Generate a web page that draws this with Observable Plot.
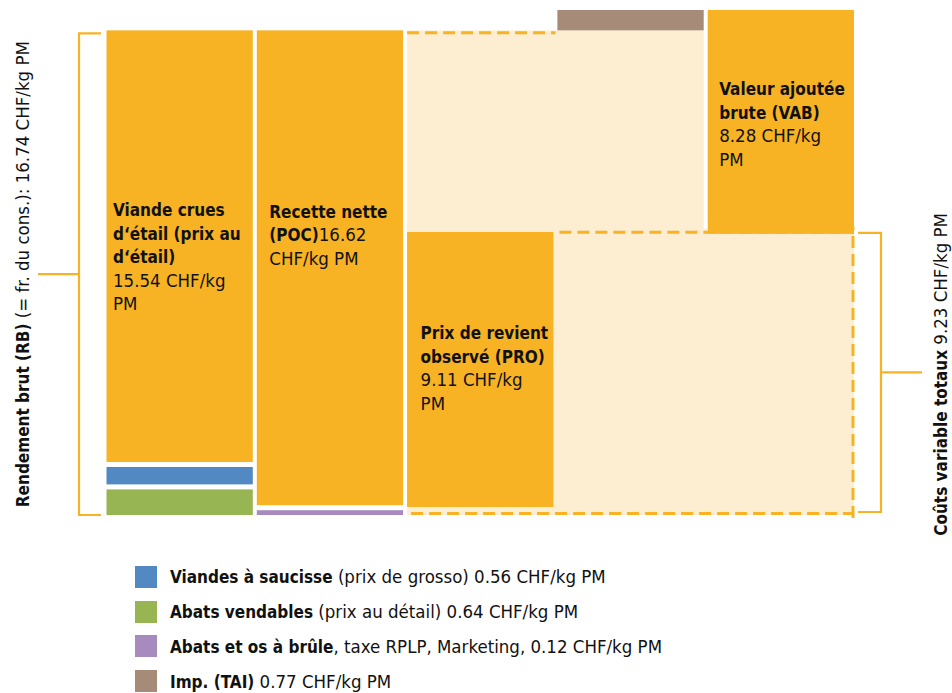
<!DOCTYPE html>
<html>
<head>
<meta charset="utf-8">
<script src="https://cdn.jsdelivr.net/npm/d3@7"></script>
<script src="https://cdn.jsdelivr.net/npm/@observablehq/plot@0.6"></script>
<style>
  html, body { margin: 0; padding: 0; background: #fff; }
  #wrap { position: relative; width: 952px; height: 693px; overflow: hidden;
          font-family: "DejaVu Sans Condensed", "DejaVu Sans", sans-serif; font-stretch: condensed; }
  #legend { position: absolute; left: 135px; top: 559.5px; font-size: 18.5px; color: #111; }
  .row { display: flex; align-items: center; height: 34.8px; white-space: nowrap; }
  .sw { width: 22px; height: 22px; margin-right: 13px; flex: none; }
  #legend b { font-weight: bold; font-size: 17px; }
</style>
</head>
<body>
<div id="wrap"><div id="chart"></div><div id="legend"></div></div>
<script>
// ---------- data ----------
const columnNames = ["Viande crues d‘étail", "Recette nette (POC)", "Prix de revient observé (PRO)", "Imp. (TAI)", "Valeur ajoutée brute (VAB)"];
const rbTotal = 16.74;      // Rendement brut (RB)
const cvTotal = 9.23;       // Coûts variable totaux
const viandeCrues = 15.54;
const viandesSaucisse = 0.56;
const abatsVendables = 0.64;
const recetteNette = 16.62;
const abatsOs = 0.12;
const prixRevient = 9.11;
const impTAI = 0.77;
const vab = 8.28;

const colors = {orange: "#F7B324", light: "#FDEDD1", blue: "#5389C2", green: "#97B552", purple: "#A78BBE", brown: "#A68B78"};

// stacks: column index, segments bottom-up
const stackCols   = [0, 1];
const stackItems  = [
  [{v: abatsVendables, c: colors.green}, {v: viandesSaucisse, c: colors.blue}, {v: viandeCrues, c: colors.orange}],
  [{v: abatsOs, c: colors.purple}, {v: recetteNette, c: colors.orange}]
];

const legendItems = [
  {c: colors.blue,   b: "Viandes à saucisse", t: ` (prix de grosso) ${viandesSaucisse.toFixed(2)} CHF/kg PM`},
  {c: colors.green,  b: "Abats vendables", t: ` (prix au détail) ${abatsVendables.toFixed(2)} CHF/kg PM`},
  {c: colors.purple, b: "Abats et os à brûle", t: `, taxe RPLP, Marketing, ${abatsOs.toFixed(2)} CHF/kg PM`},
  {c: colors.brown,  b: "Imp. (TAI)", t: ` ${impTAI.toFixed(2)} CHF/kg PM`}
];

// ---------- derived tables ----------
const stackedBase = [], stackedUpper = [];
stackCols.forEach((col, k) => {
  let base = 0;
  stackItems[k].forEach((s, i) => {
    (i === 0 ? stackedBase : stackedUpper).push({x1: col, x2: col + 1, y1: base, y2: base + s.v, fill: s.c});
    base += s.v;
  });
});
const pro = [{x1: 2, x2: 3, y1: 0, y2: prixRevient}];
const tai = [{x1: 3, x2: 4, y1: rbTotal, y2: rbTotal + impTAI}];
const vabBar = [{x1: 4, x2: 5, y1: cvTotal, y2: cvTotal + vab}];
const lights = [
  {x1: 2, x2: 4, y1: prixRevient, y2: rbTotal},
  {x1: 2, x2: 5, y1: 0, y2: cvTotal}
];
const f = v => v.toFixed(2);
const smallTotal = abatsVendables + viandesSaucisse;

const dash = {stroke: colors.orange, strokeWidth: 3, strokeDasharray: "12,6"};
const ns = "http://www.w3.org/2000/svg";

function brackets(index, scales) {
  const {x, y} = scales;
  const g = document.createElementNS(ns, "g");
  const path = document.createElementNS(ns, "path");
  const lx = x(0) - 25.5, lb = y(0), lt = y(rbTotal) + 3, lm = (lb + lt) / 2;
  const rx = x(5) + 25, rb = y(0) - 3, rt = y(cvTotal) + 4, rm = (rb + rt) / 2;
  path.setAttribute("d",
    `M${lx + 22},${lt}H${lx}V${lb}H${lx + 22}M${lx},${lm}H${lx - 41}` +
    `M${rx - 23},${rt}H${rx}V${rb}H${rx - 23}M${rx},${rm}H${rx + 41}`);
  path.setAttribute("fill", "none");
  path.setAttribute("stroke", colors.orange);
  path.setAttribute("stroke-width", 2.2);
  g.appendChild(path);
  const label = (cx, cy, bold, normal) => {
    const t = document.createElementNS(ns, "text");
    t.setAttribute("transform", `translate(${cx},${cy}) rotate(-90)`);
    t.setAttribute("text-anchor", "middle");
    t.setAttribute("dy", "0.36em");
    t.setAttribute("fill", "#111");
    const a = document.createElementNS(ns, "tspan"); a.setAttribute("font-weight", "bold"); a.setAttribute("font-size", "17px"); a.textContent = bold;
    const b = document.createElementNS(ns, "tspan"); b.textContent = normal;
    t.appendChild(a); t.appendChild(b);
    g.appendChild(t);
  };
  label(22, lm, "Rendement brut (RB)", ` (= fr. du cons.): ${f(rbTotal)} CHF/kg PM`);
  label(940, rm + 2, "Coûts variable totaux", ` ${f(cvTotal)} CHF/kg PM`);
  return g;
}

const textOpts = {textAnchor: "start", lineAnchor: "middle", lineHeight: 23.5 / 18.5, fill: "#111", fontSize: 18.5};
const rectXY = {x1: "x1", x2: "x2", y1: "y1", y2: "y2", insetLeft: 2, insetRight: 2};

const chart = Plot.plot({
  width: 952,
  height: 693,
  margin: 0,
  style: {fontFamily: "'DejaVu Sans Condensed', 'DejaVu Sans', sans-serif", fontSize: "18.5px", fontStretch: "condensed", background: "transparent"},
  x: {type: "linear", domain: [0, 5], range: [104.5, 856], axis: null},
  y: {type: "linear", domain: [0, smallTotal, prixRevient, rbTotal + impTAI], range: [515, 467, 232, 10], axis: null},
  marks: [
    Plot.rect(lights, {...rectXY, fill: colors.light}),
    Plot.ruleY([rbTotal], {x1: 2, x2: 3, dy: 2, insetLeft: 2, ...dash}),
    Plot.ruleY([cvTotal], {x1: 3, x2: 5, dy: 3, insetLeft: 4, insetRight: 2, ...dash}),
    Plot.ruleY([0], {x1: 2, x2: 5, dy: -2, insetLeft: 6, insetRight: 2, ...dash}),
    Plot.ruleX([5], {y1: 0, y2: cvTotal, dx: -3.5, insetTop: 3, insetBottom: 2, ...dash}),
    Plot.rect(stackedBase, {...rectXY, fill: "fill"}),
    Plot.rect(stackedUpper, {...rectXY, fill: "fill", insetBottom: 5}),
    Plot.rect(pro, {...rectXY, fill: colors.orange, insetBottom: 8}),
    Plot.rect(tai, {...rectXY, fill: colors.brown}),
    Plot.rect(vabBar, {...rectXY, fill: colors.orange, insetBottom: -5}),
    Plot.text([0], {...textOpts, x: 0, y: (smallTotal + rbTotal) / 2, dx: 8, dy: 19,
      text: () => ["**Viande crues**", "**d‘étail (prix au**", "**d‘étail)**", `${f(viandeCrues)} CHF/kg`, "PM"].join("\n")}),
    Plot.text([1], {...textOpts, x: 1, y: (abatsOs + rbTotal) / 2, dx: 14, dy: -19,
      text: () => ["**Recette nette**", `**(POC)**${f(recetteNette)}`, "CHF/kg PM"].join("\n")}),
    Plot.text([2], {...textOpts, x: 2, y: prixRevient / 2, dx: 15, dy: -1,
      text: () => ["**Prix de revient**", "**observé (PRO)**", `${f(prixRevient)} CHF/kg`, "PM"].join("\n")}),
    Plot.text([4], {...textOpts, x: 4, y: cvTotal + vab / 2, dx: 13, dy: 3,
      text: () => ["**Valeur ajoutée**", "**brute (VAB)**", `${f(vab)} CHF/kg`, "PM"].join("\n")}),
    brackets
  ]
});

// rich text: **bold** segments
for (const el of [...chart.querySelectorAll("text, tspan")]) {
  if (el.querySelector("tspan")) continue;
  const s = el.textContent;
  if (!s.includes("**")) continue;
  el.textContent = "";
  s.split("**").forEach((p, i) => {
    if (!p) return;
    const t = document.createElementNS(ns, "tspan");
    t.textContent = p;
    if (i % 2 === 1) { t.setAttribute("font-weight", "bold"); t.setAttribute("font-size", "17px"); }
    el.appendChild(t);
  });
}
document.getElementById("chart").appendChild(chart);

const legend = d3.select("#legend");
for (const it of legendItems) {
  const r = legend.append("div").attr("class", "row");
  r.append("div").attr("class", "sw").style("background", it.c);
  const s = r.append("span");
  s.append("b").text(it.b);
  s.append("span").text(it.t);
}
</script>
</body>
</html>
